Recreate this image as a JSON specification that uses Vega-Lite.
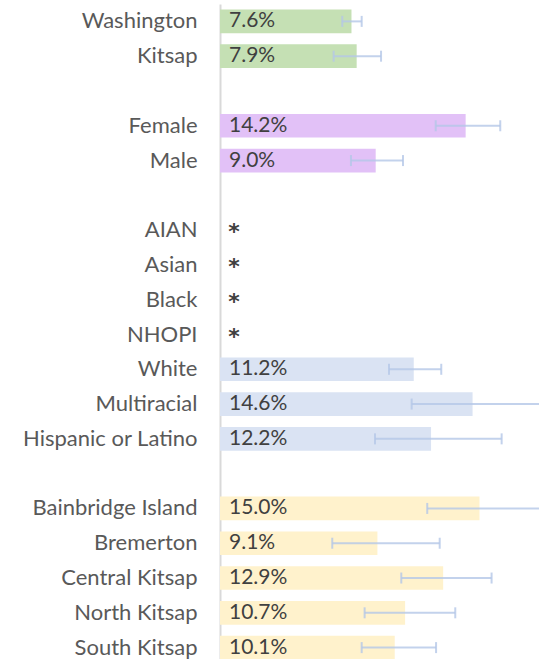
{
  "$schema": "https://vega.github.io/schema/vega-lite/v6.json",
  "autosize": "none",
  "width": 319,
  "height": 661,
  "padding": {"left": 220, "top": 4, "right": 0, "bottom": 0},
  "background": "white",
  "config": {"view": {"stroke": null}, "font": "Lato"},
  "data": {"values": [
    {"cat": "Washington", "grp": "total", "val": 7.6, "lo": 7.07, "hi": 8.19, "lab": "7.6%"},
    {"cat": "Kitsap", "grp": "total", "val": 7.9, "lo": 6.57, "hi": 9.31, "lab": "7.9%"},
    {"cat": "blank1", "grp": "none", "val": null, "lo": null, "hi": null, "lab": ""},
    {"cat": "Female", "grp": "sex", "val": 14.2, "lo": 12.47, "hi": 16.2, "lab": "14.2%"},
    {"cat": "Male", "grp": "sex", "val": 9.0, "lo": 7.57, "hi": 10.58, "lab": "9.0%"},
    {"cat": "blank2", "grp": "none", "val": null, "lo": null, "hi": null, "lab": ""},
    {"cat": "AIAN", "grp": "race", "val": null, "lo": null, "hi": null, "lab": "*"},
    {"cat": "Asian", "grp": "race", "val": null, "lo": null, "hi": null, "lab": "*"},
    {"cat": "Black", "grp": "race", "val": null, "lo": null, "hi": null, "lab": "*"},
    {"cat": "NHOPI", "grp": "race", "val": null, "lo": null, "hi": null, "lab": "*"},
    {"cat": "White", "grp": "race", "val": 11.2, "lo": 9.77, "hi": 12.79, "lab": "11.2%"},
    {"cat": "Multiracial", "grp": "race", "val": 14.6, "lo": 11.08, "hi": 19.5, "lab": "14.6%"},
    {"cat": "Hispanic or Latino", "grp": "race", "val": 12.2, "lo": 8.96, "hi": 16.28, "lab": "12.2%"},
    {"cat": "blank3", "grp": "none", "val": null, "lo": null, "hi": null, "lab": ""},
    {"cat": "Bainbridge Island", "grp": "region", "val": 15.0, "lo": 11.98, "hi": 19.5, "lab": "15.0%"},
    {"cat": "Bremerton", "grp": "region", "val": 9.1, "lo": 6.49, "hi": 12.7, "lab": "9.1%"},
    {"cat": "Central Kitsap", "grp": "region", "val": 12.9, "lo": 10.48, "hi": 15.7, "lab": "12.9%"},
    {"cat": "North Kitsap", "grp": "region", "val": 10.7, "lo": 8.36, "hi": 13.6, "lab": "10.7%"},
    {"cat": "South Kitsap", "grp": "region", "val": 10.1, "lo": 8.19, "hi": 12.49, "lab": "10.1%"}
  ]},
  "encoding": {
    "y": {
      "field": "cat", "type": "nominal", "title": null,
      "scale": {"paddingInner": 0.32, "paddingOuter": 0.16,
        "domain": ["Washington", "Kitsap", "blank1", "Female", "Male", "blank2", "AIAN", "Asian", "Black", "NHOPI", "White", "Multiracial", "Hispanic or Latino", "blank3", "Bainbridge Island", "Bremerton", "Central Kitsap", "North Kitsap", "South Kitsap"]},
      "axis": {
        "labelExpr": "indexof(datum.label, 'blank') == 0 ? '' : datum.label",
        "labelFontSize": 22, "labelColor": "#595959", "labelPadding": 23,
        "ticks": false, "domainColor": "#d9d9d9", "domainWidth": 2, "grid": false,
        "labelFont": "Lato"
      }
    }
  },
  "layer": [
    {
      "mark": {"type": "bar", "clip": true},
      "encoding": {
        "x": {"field": "val", "type": "quantitative", "scale": {"domain": [0, 18.44], "nice": false}, "axis": null},
        "color": {"field": "grp", "type": "nominal", "legend": null,
          "scale": {"domain": ["total", "sex", "race", "region", "none"], "range": ["#C5E0B4", "#E2C1F7", "#DAE3F3", "#FFF2CC", "#ffffff"]}}
      }
    },
    {
      "mark": {"type": "rule", "clip": true, "color": "#B4C7E7", "strokeWidth": 2, "opacity": 0.8},
      "encoding": {
        "x": {"field": "lo", "type": "quantitative"},
        "x2": {"field": "hi"}
      }
    },
    {
      "mark": {"type": "tick", "clip": true, "color": "#B4C7E7", "thickness": 2, "size": 11, "opacity": 0.8},
      "encoding": {"x": {"field": "lo", "type": "quantitative"}}
    },
    {
      "mark": {"type": "tick", "clip": true, "color": "#B4C7E7", "thickness": 2, "size": 11, "opacity": 0.8},
      "encoding": {"x": {"field": "hi", "type": "quantitative"}}
    },
    {
      "transform": [{"filter": "datum.lab != '*'"}],
      "mark": {"type": "text", "align": "left", "baseline": "middle", "dx": 9, "fontSize": 21, "color": "#404040", "font": "Lato"},
      "encoding": {
        "x": {"datum": 0, "type": "quantitative"},
        "text": {"field": "lab"}
      }
    },
    {
      "transform": [{"filter": "datum.lab == '*'"}],
      "mark": {"type": "text", "align": "center", "baseline": "middle", "dx": 14, "dy": 2, "fontSize": 22, "fontWeight": "bold", "color": "#404040", "font": "DejaVu Sans"},
      "encoding": {
        "x": {"datum": 0, "type": "quantitative"},
        "text": {"field": "lab"}
      }
    }
  ]
}
